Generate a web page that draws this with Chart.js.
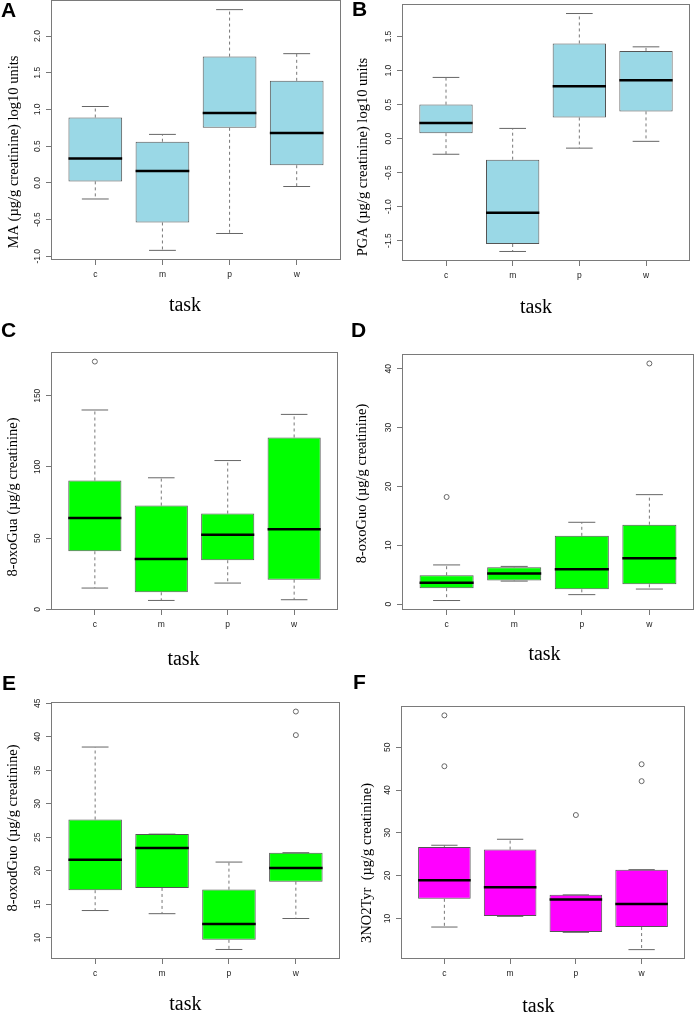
<!DOCTYPE html>
<html>
<head>
<meta charset="utf-8">
<title>task boxplots</title>
<script src="https://cdn.jsdelivr.net/npm/chart.js@4.4.1/dist/chart.umd.min.js"></script>
<style>
  html, body { margin: 0; padding: 0; background: #fff; }
  #wrap { position: relative; width: 699px; height: 1013px; overflow: hidden; background: #fff; }
  #wrap canvas { position: absolute; left: 0; top: 0; }
</style>
</head>
<body>
<div id="wrap">
  <canvas id="pA" width="699" height="1013"></canvas>
  <canvas id="pB" width="699" height="1013"></canvas>
  <canvas id="pC" width="699" height="1013"></canvas>
  <canvas id="pD" width="699" height="1013"></canvas>
  <canvas id="pE" width="699" height="1013"></canvas>
  <canvas id="pF" width="699" height="1013"></canvas>
</div>
<script>
const tasks = ['c', 'm', 'p', 'w'];

// A - MA, log10 units
const maLow = [-0.22, -0.92, -0.69, -0.05];
const maQ1 = [0.02, -0.54, 0.75, 0.24];
const maMedian = [0.33, 0.16, 0.95, 0.68];
const maQ3 = [0.89, 0.56, 1.72, 1.39];
const maHigh = [1.04, 0.66, 2.36, 1.76];
const maOutliers = [[], [], [], []];
const maTicks = ['-1.0', '-0.5', '0.0', '0.5', '1.0', '1.5', '2.0'];

// B - PGA, log10 units
const pgaLow = [-0.23, -1.66, -0.14, -0.04];
const pgaQ1 = [0.08, -1.55, 0.31, 0.40];
const pgaMedian = [0.23, -1.09, 0.77, 0.86];
const pgaQ3 = [0.50, -0.31, 1.40, 1.29];
const pgaHigh = [0.90, 0.15, 1.84, 1.35];
const pgaOutliers = [[], [], [], []];
const pgaTicks = ['-1.5', '-1.0', '-0.5', '0.0', '0.5', '1.0', '1.5'];

// C - 8-oxoGua
const guaLow = [15, 6.3, 18.5, 6.8];
const guaQ1 = [40.8, 12, 34.5, 20.9];
const guaMedian = [64.2, 35.4, 52.5, 56.3];
const guaQ3 = [90.5, 72.9, 67.3, 120.7];
const guaHigh = [140, 92.4, 104.5, 136.9];
const guaOutliers = [[174], [], [], []];
const guaTicks = ['0', '50', '100', '150'];

// D - 8-oxoGuo
const guoLow = [0.6, 3.9, 1.6, 2.55];
const guoQ1 = [2.7, 4.0, 2.5, 3.35];
const guoMedian = [3.6, 5.2, 5.9, 7.8];
const guoQ3 = [4.9, 6.25, 11.6, 13.5];
const guoHigh = [6.65, 6.4, 13.9, 18.6];
const guoOutliers = [[18.2], [], [], [40.9]];
const guoTicks = ['0', '10', '20', '30', '40'];

// E - 8-oxodGuo
const dguoLow = [14.07, 13.6, 8.26, 12.88];
const dguoQ1 = [17.1, 17.44, 9.7, 18.38];
const dguoMedian = [21.65, 23.4, 12.08, 20.4];
const dguoQ3 = [27.65, 25.47, 17.19, 22.7];
const dguoHigh = [38.46, 25.47, 21.3, 22.7];
const dguoOutliers = [[], [], [], [43.76, 40.24]];
const dguoTicks = ['10', '15', '20', '25', '30', '35', '40', '45'];

// F - 3NO2Tyr
const tyrLow = [7.98, 10.47, 6.74, 2.7];
const tyrQ1 = [14.58, 10.54, 6.8, 7.98];
const tyrMedian = [18.93, 17.3, 14.43, 13.34];
const tyrQ3 = [26.7, 26.08, 15.5, 21.4];
const tyrHigh = [27.1, 28.5, 15.5, 21.4];
const tyrOutliers = [[57.46, 45.57], [], [34.16], [46.04, 42.08]];
const tyrTicks = ['10', '20', '30', '40', '50'];

const W = 699, H = 1013;
const BLUE = '#9ad8e6', GREEN = '#00ff00', MAGENTA = '#ff00ff';

// frame = [left, top, right, bottom] in page pixels
const panels = [
    { id: 'pA', letter: 'A', fill: BLUE, yTitle: 'MA (µg/g creatinine) log10 units',
      lo: maLow, q1: maQ1, med: maMedian, q3: maQ3, hi: maHigh, out: maOutliers, ticks: maTicks,
      frame: [51, 0, 341, 260], letterAt: [1, 17], yTitleAt: [17.5, 152], xTitleAt: [185, 311] },
    { id: 'pB', letter: 'B', fill: BLUE, yTitle: 'PGA (µg/g creatinine) log10 units',
      lo: pgaLow, q1: pgaQ1, med: pgaMedian, q3: pgaQ3, hi: pgaHigh, out: pgaOutliers, ticks: pgaTicks,
      frame: [402, 4, 690, 261], letterAt: [352, 16], yTitleAt: [367, 157], xTitleAt: [536, 313] },
    { id: 'pC', letter: 'C', fill: GREEN, yTitle: '8-oxoGua (µg/g creatinine)',
      lo: guaLow, q1: guaQ1, med: guaMedian, q3: guaQ3, hi: guaHigh, out: guaOutliers, ticks: guaTicks,
      frame: [51, 352, 338, 610], letterAt: [1, 337], yTitleAt: [16.7, 497], xTitleAt: [183.5, 665] },
    { id: 'pD', letter: 'D', fill: GREEN, yTitle: '8-oxoGuo (µg/g creatinine)',
      lo: guoLow, q1: guoQ1, med: guoMedian, q3: guoQ3, hi: guoHigh, out: guoOutliers, ticks: guoTicks,
      frame: [402, 354, 698, 610], letterAt: [351, 337], yTitleAt: [366, 483.5], xTitleAt: [544.5, 660] },
    { id: 'pE', letter: 'E', fill: GREEN, yTitle: '8-oxodGuo (µg/g creatinine)',
      lo: dguoLow, q1: dguoQ1, med: dguoMedian, q3: dguoQ3, hi: dguoHigh, out: dguoOutliers, ticks: dguoTicks,
      frame: [51, 702, 340, 959], letterAt: [2, 690], yTitleAt: [17.3, 828], xTitleAt: [185.3, 1010] },
    { id: 'pF', letter: 'F', fill: MAGENTA, yTitle: '3NO2Tyr  (µg/g creatinine)',
      lo: tyrLow, q1: tyrQ1, med: tyrMedian, q3: tyrQ3, hi: tyrHigh, out: tyrOutliers, ticks: tyrTicks,
      frame: [401, 706, 685, 959], letterAt: [353, 689], yTitleAt: [370.7, 863], xTitleAt: [538.3, 1012] }
];

Chart.defaults.font.family = '"Liberation Sans", Arial, sans-serif';

// frame, rotated y tick labels, titles and panel letter
function decor(p) {
    return {
        id: 'decor' + p.letter,
        afterDraw(chart) {
            const ctx = chart.ctx;
            const a = chart.chartArea;
            const ys = chart.scales.y;
            ctx.save();
            ctx.strokeStyle = '#7a7a7a';
            ctx.lineWidth = 1;
            ctx.strokeRect(a.left + 0.5, a.top + 0.5, a.right - a.left - 1, a.bottom - a.top - 1);

            ctx.fillStyle = '#222';
            ctx.font = '8.5px "Liberation Sans", Arial, sans-serif';
            ctx.textAlign = 'center';
            ctx.textBaseline = 'middle';
            p.ticks.forEach(lab => {
                const y = ys.getPixelForValue(parseFloat(lab));
                ctx.save();
                ctx.translate(a.left - 13, y);
                ctx.rotate(-Math.PI / 2);
                ctx.fillText(lab, 0, 0);
                ctx.restore();
            });

            ctx.fillStyle = '#000';
            ctx.font = '14.5px "Liberation Serif", "Times New Roman", serif';
            ctx.textBaseline = 'alphabetic';
            ctx.save();
            ctx.translate(p.yTitleAt[0], p.yTitleAt[1]);
            ctx.rotate(-Math.PI / 2);
            ctx.fillText(p.yTitle, 0, 0);
            ctx.restore();

            ctx.font = '20px "Liberation Serif", "Times New Roman", serif';
            ctx.fillText('task', p.xTitleAt[0], p.xTitleAt[1]);

            ctx.textAlign = 'left';
            ctx.font = 'bold 21px "Liberation Sans", Arial, sans-serif';
            ctx.fillText(p.letter, p.letterAt[0], p.letterAt[1]);
            ctx.restore();
        }
    };
}

function drawPanel(p) {
    const boxes = [], whiskers = [], caps = [], medians = [], outliers = [];
    tasks.forEach((t, i) => {
        const x = i + 1;
        boxes.push({ x: x, y: [p.q1[i], p.q3[i]] });
        whiskers.push({ x: x, y: p.q3[i] }, { x: x, y: p.hi[i] }, { x: x, y: null },
                      { x: x, y: p.q1[i] }, { x: x, y: p.lo[i] }, { x: x, y: null });
        caps.push({ x: x - 0.2, y: p.hi[i] }, { x: x + 0.2, y: p.hi[i] }, { x: x, y: null },
                  { x: x - 0.2, y: p.lo[i] }, { x: x + 0.2, y: p.lo[i] }, { x: x, y: null });
        medians.push({ x: x - 0.4, y: p.med[i] }, { x: x + 0.4, y: p.med[i] }, { x: x, y: null });
        p.out[i].forEach(v => outliers.push({ x: x, y: v }));
    });

    // R style range: data extremes plus 4%
    const all = p.lo.concat(p.hi, ...p.out);
    const dMin = Math.min(...all), dMax = Math.max(...all);
    const ext = (dMax - dMin) * 0.04;
    const [L, T, R, B] = p.frame;
    const yAxisW = 6, xAxisH = 20;

    new Chart(document.getElementById(p.id), {
        type: 'bar',
        data: {
            datasets: [
                {
                    type: 'line', data: medians, order: 0,
                    borderColor: '#000', borderWidth: 2.5, borderCapStyle: 'butt',
                    pointRadius: 0, spanGaps: false
                },
                {
                    type: 'scatter', data: outliers, order: 1,
                    pointRadius: 2.5, pointStyle: 'circle', borderWidth: 1,
                    borderColor: '#666', backgroundColor: 'rgba(0,0,0,0)'
                },
                {
                    type: 'bar', data: boxes, order: 2,
                    backgroundColor: p.fill, borderColor: '#555', borderWidth: 1,
                    borderSkipped: false, barPercentage: 0.8, categoryPercentage: 1.0
                },
                {
                    type: 'line', data: whiskers, order: 3,
                    borderColor: '#777', borderWidth: 1, borderDash: [3, 3],
                    pointRadius: 0, spanGaps: false
                },
                {
                    type: 'line', data: caps, order: 3,
                    borderColor: '#666', borderWidth: 1,
                    pointRadius: 0, spanGaps: false
                }
            ]
        },
        options: {
            responsive: false,
            devicePixelRatio: 1,
            animation: false,
            events: [],
            layout: {
                padding: { left: L - yAxisW, top: T, right: W - R, bottom: H - B - xAxisH }
            },
            plugins: { legend: { display: false }, tooltip: { enabled: false } },
            scales: {
                x: {
                    type: 'linear',
                    min: 0.34,
                    max: 4.66,
                    offset: false,
                    afterBuildTicks: s => { s.ticks = tasks.map((t, i) => ({ value: i + 1 })); },
                    afterFit: s => { s.height = xAxisH; },
                    grid: { offset: false, drawOnChartArea: false, drawTicks: true, tickLength: 5, color: '#777' },
                    border: { display: false },
                    ticks: {
                        padding: 5,
                        color: '#222',
                        font: { size: 8.5 },
                        maxRotation: 0,
                        autoSkip: false,
                        callback: v => tasks[v - 1] || ''
                    }
                },
                y: {
                    type: 'linear',
                    min: dMin - ext,
                    max: dMax + ext,
                    afterBuildTicks: s => { s.ticks = p.ticks.map(t => ({ value: parseFloat(t) })); },
                    afterFit: s => { s.width = yAxisW; },
                    grid: { offset: false, drawOnChartArea: false, drawTicks: true, tickLength: 5, color: '#777' },
                    border: { display: false },
                    ticks: { display: false }
                }
            }
        },
        plugins: [decor(p)]
    });
}

document.addEventListener('DOMContentLoaded', function() {
    panels.forEach(drawPanel);
});
</script>
</body>
</html>
